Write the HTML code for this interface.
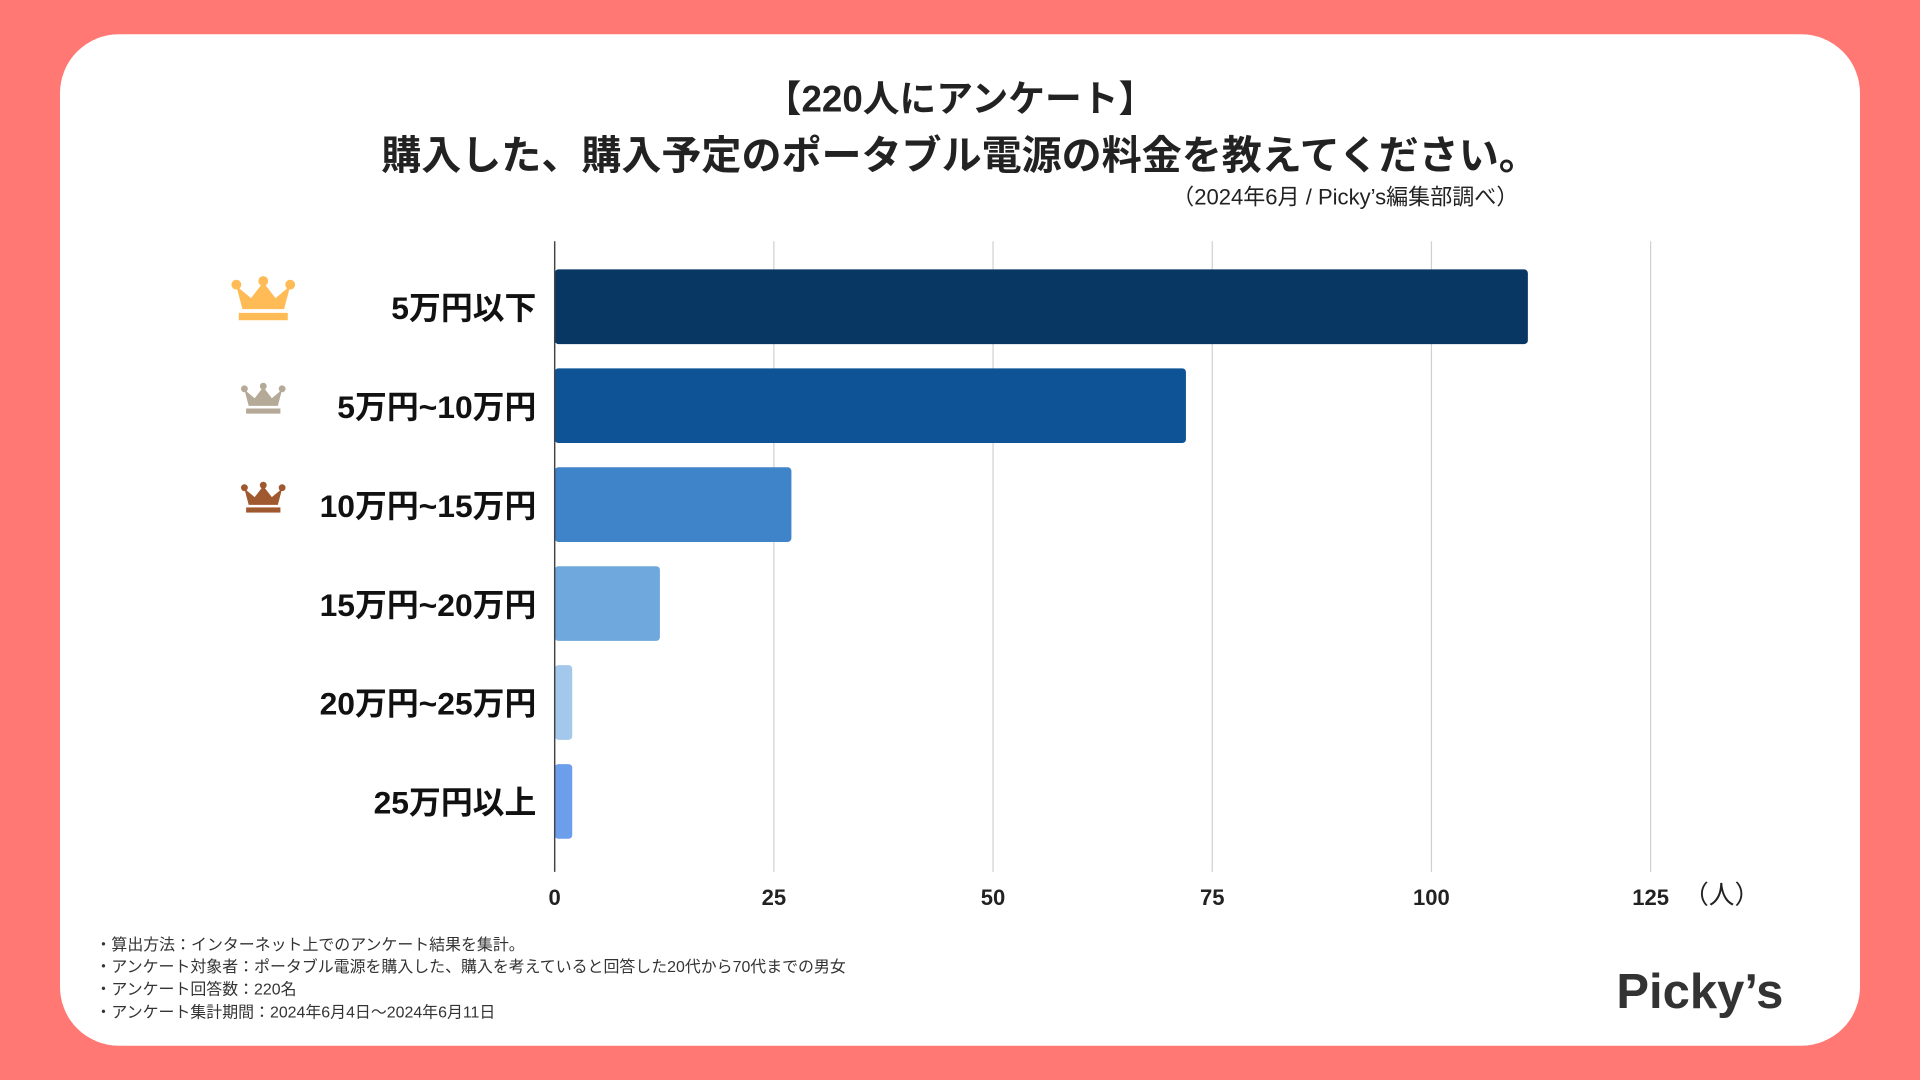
<!DOCTYPE html>
<html><head><meta charset="utf-8">
<style>
html,body{margin:0;padding:0;width:1920px;height:1080px;overflow:hidden;background:#ff7873;}
#wrap{position:absolute;left:0;top:0;width:1568px;height:882px;transform:scale(1.22449);transform-origin:0 0;background:#ff7873;font-family:"Liberation Sans","Noto Sans CJK JP",sans-serif;}
#card{position:absolute;left:49px;top:28px;width:1470px;height:826px;background:#fff;border-radius:48px;}
.t{position:absolute;color:#222;white-space:nowrap;}
</style></head><body>
<div id="wrap">
<div id="card"></div>
<div class="t" style="left:0;width:1568px;text-align:center;top:56px;font-size:30px;font-weight:bold;">【220人にアンケート】</div>
<div class="t" style="left:0;width:1568px;text-align:center;top:101px;font-size:32.7px;font-weight:bold;">購入した、購入予定のポータブル電源の料金を教えてください。</div>
<div class="t" style="right:328px;top:147px;font-size:18px;">（2024年6月 / Picky’s編集部調べ）</div>
<svg id="chart" width="1568" height="882" style="position:absolute;left:0;top:0"></svg>
<div class="t" style="left:78px;top:763px;font-size:13px;line-height:18.2px;color:#333;">・算出方法：インターネット上でのアンケート結果を集計。<br>・アンケート対象者：ポータブル電源を購入した、購入を考えていると回答した20代から70代までの男女<br>・アンケート回答数：220名<br>・アンケート集計期間：2024年6月4日〜2024年6月11日</div>
<div class="t" style="left:1320px;top:788px;font-size:40px;font-weight:bold;color:#333;">Picky’s</div>
</div>
<script>
const categories=["5万円以下","5万円~10万円","10万円~15万円","15万円~20万円","20万円~25万円","25万円以上"];
const values=[111,72,27,12,2,2];
const ticks=[0,25,50,75,100,125];
const colors=["#083763","#0e5396","#3f84c8","#6fa8dc","#a4c7ec","#6d9eeb"];
const crownColors=["#ffbb55","#b5a998","#a0582f"];
const svg=document.getElementById('chart');
const NS="http://www.w3.org/2000/svg";
const x0=453,xScale=(1348-453)/125,top0=220,band=80.8,bh=61;
const x=v=>x0+v*xScale;
const y=i=>top0+i*band;
function mk(t,a){const e=document.createElementNS(NS,t);for(const k in a)e.setAttribute(k,a[k]);svg.appendChild(e);return e;}
ticks.forEach(t=>{
  if(t>0){const g=mk('line',{x1:x(t),x2:x(t),y1:197,y2:712,stroke:'#d0d0d0','stroke-width':1});
  
  }
  const l=mk('text',{x:x(t),y:739,'text-anchor':'middle','font-size':18,'font-weight':'bold',fill:'#222'});
  l.textContent=t;
  
  
});
const u=mk('text',{x:1406,y:738,'text-anchor':'middle','font-size':21,fill:'#222'});u.textContent='（人）';


values.forEach((v,i)=>{
  const r=mk('rect',{x:x0,y:y(i),width:x(v)-x0,height:bh,rx:3,fill:colors[i]});
  
  
  const l=mk('text',{x:438,y:y(i)+bh/2+10,'text-anchor':'end','font-size':26,'font-weight':'bold',fill:'#111'});
  l.textContent=categories[i];
  
  
});
const ax=mk('line',{x1:x0,x2:x0,y1:197,y2:712,stroke:'#444','stroke-width':1.2});


crownColors.forEach((c,i)=>{
  const s=i==0?1:0.7,cx=215,cy=y(i)+bh/2-4;
  const g=document.createElementNS(NS,'g');
  g.setAttribute('transform',`translate(${cx},${cy}) scale(${s})`);
  g.innerHTML=`<path d="M-22,-13 L-17,6 L17,6 L22,-13 L10,-3 L0,-16 L-10,-3 Z" fill="${c}"/><circle cx="-22" cy="-14" r="4" fill="${c}"/><circle cx="0" cy="-17" r="4" fill="${c}"/><circle cx="22" cy="-14" r="4" fill="${c}"/><rect x="-20" y="9" width="40" height="6" fill="${c}"/>`;
  
  
  svg.appendChild(g);
});
</script>
</body></html>
